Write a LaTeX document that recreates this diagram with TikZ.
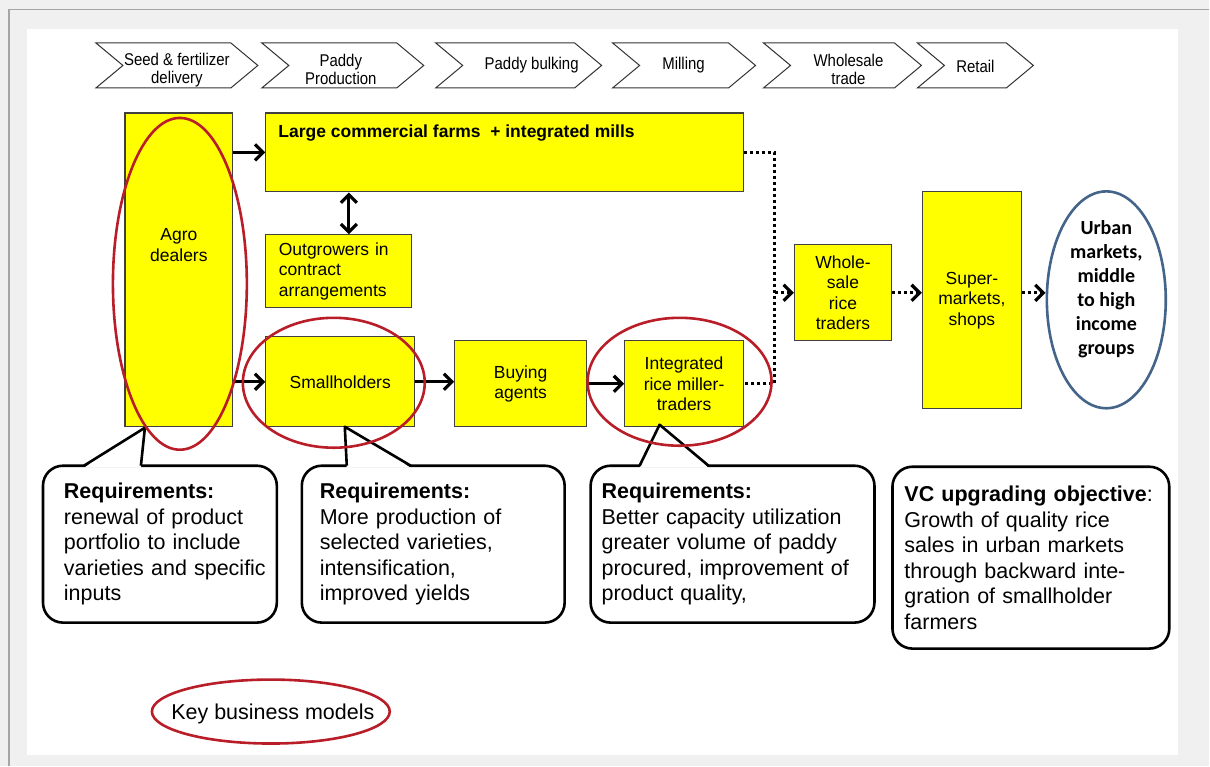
\documentclass[tikz,border=0pt]{standalone}
\usepackage{fontspec}
\setmainfont{Liberation Sans}
\newfontfamily\narrowfont[FakeStretch=0.88]{Liberation Sans}
\newfontfamily\calibrifont{Carlito}
\usetikzlibrary{arrows.meta, positioning, shapes.geometric}
\definecolor{box-yellow}{RGB}{255,255,0}
\definecolor{key-red}{RGB}{185,30,40}
\definecolor{urban-blue}{RGB}{68,100,138}
\definecolor{frame-grey}{RGB}{240,240,240}
\definecolor{line-grey}{RGB}{165,165,165}
\tikzset{
  box/.style={draw=black!75, fill=box-yellow, line width=1.2pt, inner sep=0pt, align=center, font=\fontsize{17.5}{20.5}\selectfont},
  boxtext/.style={inner sep=0pt, align=center, font=\fontsize{17.5}{20.5}\selectfont},
  arr/.style={-{Straight Barb[length=8pt,width=16pt]}, line width=3.2pt},
  dotline/.style={line width=3.2pt, dash pattern=on 3pt off 3pt},
  dotarr/.style={dotline, -{Straight Barb[length=8pt,width=16pt]}},
  keyring/.style={draw=key-red, line width=2.6pt},
  callout/.style={draw, fill=white, line width=2.6pt, rounded corners=20pt, align=left, inner ysep=0pt, minimum height=157, font=\fontsize{21.5}{25.5}\selectfont},
  pointer/.style={line width=2.6pt, line join=round},
  chevron/.style={draw=black!80, line width=1pt, fill=white},
  stage/.style={font=\narrowfont\fontsize{17}{18}\selectfont, align=center, inner sep=0pt},
}
\begin{document}
\begin{tikzpicture}[x=1pt, y=-1pt]
% frame
\fill[frame-grey] (0,0) rectangle (1210,766);
\draw[line-grey, line width=1.5pt] (9,9.5) -- (1210,9.5);
\draw[line-grey, line width=2pt] (9.5,9) -- (9.5,766);
\fill[white] (27,29) rectangle (1179,755);

% value chain stages
\draw[chevron] (96,43) -- (231,43) -- (258,65.5) -- (231,88) -- (96,88) -- (123,65.5) -- cycle;
\draw[chevron] (262,43) -- (397,43) -- (424,65.5) -- (397,88) -- (262,88) -- (289,65.5) -- cycle;
\draw[chevron] (436,43) -- (575,43) -- (602,65.5) -- (575,88) -- (436,88) -- (463,65.5) -- cycle;
\draw[chevron] (613,43) -- (729,43) -- (756,65.5) -- (729,88) -- (613,88) -- (640,65.5) -- cycle;
\draw[chevron] (764,43) -- (895,43) -- (922,65.5) -- (895,88) -- (764,88) -- (791,65.5) -- cycle;
\draw[chevron] (918,43) -- (1007,43) -- (1034,65.5) -- (1007,88) -- (918,88) -- (945,65.5) -- cycle;
\node[stage] (seed) at (177,70) {Seed \& fertilizer\\delivery};
\node[stage] (paddyprod) at (341,69) {Paddy\\Production};
\node[stage] (bulking) at (532,65) {Paddy bulking};
\node[stage] (milling) at (684,65) {Milling};
\node[stage] (wholetrade) at (849,69) {Wholesale\\trade};
\node[stage] (retail) at (976,66) {Retail};

% actors
\node[box, minimum width=108, minimum height=314] (agro) at (179,270) {};
\node[boxtext] (agrolbl) at ([yshift=25pt]agro.center) {Agro\\dealers};
\node[box, minimum width=478, minimum height=79] (large) at (505,152.5) {};
\node[boxtext, anchor=west, font=\bfseries\fontsize{17.5}{20.5}\selectfont] (largelbl) at ([xshift=13pt,yshift=-21pt]large.north west) {Large commercial farms\ \ + integrated\ mills};
\node[box, minimum width=146, minimum height=73, text width=120, align=left] (outgrow) at (339,271.5) {Outgrowers in\\contract\\arrangements};
\node[box, minimum width=149, minimum height=90] (small) at (340.5,382) {Smallholders};
\node[box, minimum width=132, minimum height=86] (buying) at (521,384) {Buying\\agents};
\node[box, minimum width=119, minimum height=86] (miller) at (684.5,384) {Integrated\\rice miller-\\traders};
\node[box, minimum width=97, minimum height=96] (wholesale) at (843.5,293) {Whole-\\sale\\rice\\traders};
\node[box, minimum width=99, minimum height=217] (superm) at (972.5,300.5) {Super-\\markets,\\shops};
\node[ellipse, draw=urban-blue, line width=2.6pt, minimum width=119, minimum height=217, inner sep=0pt] (urban) at (1107,300) {};
\node[boxtext, font=\calibrifont\bfseries\fontsize{20}{24}\selectfont] (urbanlbl) at ([yshift=11pt]urban.center) {Urban\\markets,\\middle\\to high\\income\\groups};

% flows
\draw[arr] (agro.east |- large.west) -- (large.west);
\draw[arr] (agro.east |- small.west) -- (small.west);
\draw[arr] (small.east) -- (small.east -| buying.west);
\draw[arr] (buying.east) -- (buying.east -| miller.west);
\draw[{Straight Barb[length=8pt,width=16pt]}-{Straight Barb[length=8pt,width=16pt]}, line width=3.2pt] ([xshift=10pt]outgrow.north) -- ([xshift=10pt]outgrow.north |- large.south);
\coordinate (split) at (775,293);
\draw[dotline] (large.east) -| (split |- miller.east) -- (miller.east);
\draw[dotarr] (split) -- (wholesale.west);
\draw[dotarr] (wholesale.east) -- (wholesale.east -| superm.west);
\draw[dotarr] (superm.east |- wholesale.east) -- (urban.west |- wholesale.east);

% requirements
\node[callout, minimum width=234, text width=192, inner xsep=21pt] (req1) at (160,544.5) {{\bfseries Requirements:}\\renewal of product\\portfolio to include\\\mbox{varieties and specific}\\inputs};
\node[callout, minimum width=263, text width=227, inner xsep=18pt] (req2) at (433.5,544.5) {{\bfseries Requirements:}\\More production of\\selected varieties,\\intensification,\\improved yields};
\node[callout, minimum width=284, text width=262, inner xsep=11pt] (req3) at (733,544.5) {{\bfseries Requirements:}\\Better capacity utilization\\greater volume of paddy\\procured, improvement of\\product quality,};
\node[callout, minimum width=277, minimum height=182, text width=253, inner xsep=12pt] (vcgoal) at (1031.5,558) {{\bfseries VC upgrading objective}:\\Growth of quality rice\\sales in urban markets\\through backward inte-\\gration of smallholder\\farmers};
\coordinate (tip1) at (145,428);
\coordinate (tip2) at (345,427);
\coordinate (tip3) at (660,425);
\fill[white] (84,468) -- (tip1) -- (141,468) -- cycle;
\draw[pointer] (84,466) -- (tip1) -- (141,466);
\fill[white] (347,468) -- (tip2) -- (411,468) -- cycle;
\draw[pointer] (347,466) -- (tip2) -- (411,466);
\fill[white] (640,468) -- (tip3) -- (709,468) -- cycle;
\draw[pointer] (640,466) -- (tip3) -- (709,466);

% key business models
\draw[keyring] (180,284) ellipse [x radius=67, y radius=166];
\draw[keyring] (334,383) ellipse [x radius=91, y radius=65];
\draw[keyring] (680,382) ellipse [x radius=92, y radius=64];
\draw[keyring] (271,712) ellipse [x radius=119, y radius=32];
\node[inner sep=0pt, font=\fontsize{21.5}{25}\selectfont] (keylbl) at (273,714) {Key business models};
\end{tikzpicture}
\end{document}
